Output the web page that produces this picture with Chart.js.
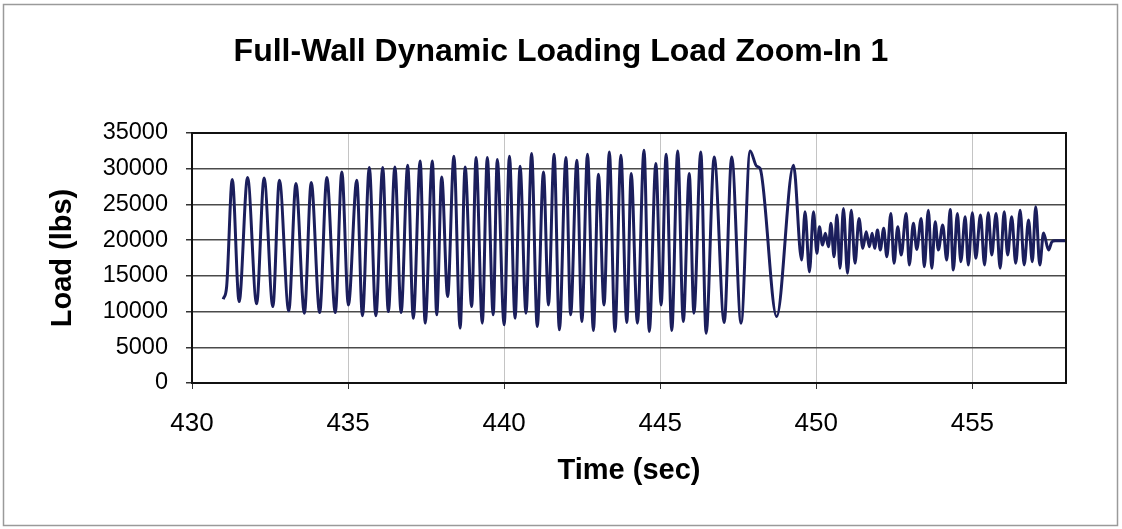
<!DOCTYPE html>
<html>
<head>
<meta charset="utf-8">
<script src="https://cdn.jsdelivr.net/npm/chart.js@4/dist/chart.umd.min.js"></script>
<style>
  html, body { margin: 0; padding: 0; background: #fff; }
  #wrap { width: 1122px; height: 529px; position: relative; }
</style>
</head>
<body>
<div id="wrap"><canvas id="c" width="1122" height="529"></canvas></div>
<script>
// ---- data (peaks / troughs of the load trace) ----
const chartTitle = "Full-Wall Dynamic Loading Load Zoom-In 1";
const xAxisTitle = "Time (sec)";
const yAxisTitle = "Load (lbs)";
const xTickValues = [430, 435, 440, 445, 450, 455];
const yTickValues = [0, 5000, 10000, 15000, 20000, 25000, 30000, 35000];

const timeSec = [
  431.00, 431.11, 431.29, 431.51, 431.78, 432.07, 432.31, 432.59, 432.80, 433.10,
  433.33, 433.60, 433.82, 434.09, 434.32, 434.59, 434.80, 435.01, 435.28, 435.46,
  435.68, 435.89, 436.11, 436.29, 436.50, 436.70, 436.91, 437.09, 437.31, 437.47,
  437.70, 437.84, 438.00, 438.19, 438.39, 438.59, 438.75, 438.96, 439.10, 439.30,
  439.46, 439.65, 439.78, 440.00, 440.17, 440.35, 440.51, 440.70, 440.88, 441.06,
  441.26, 441.42, 441.60, 441.77, 441.98, 442.13, 442.33, 442.49, 442.67, 442.86,
  443.02, 443.20, 443.37, 443.55, 443.74, 443.93, 444.07, 444.27, 444.48, 444.65,
  444.86, 445.03, 445.19, 445.37, 445.56, 445.74, 445.93, 446.08, 446.30, 446.47,
  446.73, 447.05, 447.29, 447.59, 447.88, 448.09, 448.20, 448.73, 449.27, 449.53,
  449.64, 449.78, 449.91, 450.02, 450.10, 450.20, 450.29, 450.39, 450.47, 450.57,
  450.66, 450.76, 450.87, 451.00, 451.12, 451.24, 451.37, 451.49, 451.60, 451.70,
  451.79, 451.87, 451.96, 452.05, 452.16, 452.26, 452.39, 452.49, 452.61, 452.72,
  452.88, 452.98, 453.11, 453.22, 453.36, 453.46, 453.59, 453.70, 453.81, 453.91,
  454.05, 454.18, 454.29, 454.39, 454.52, 454.63, 454.77, 454.87, 455.00, 455.11,
  455.26, 455.39, 455.51, 455.62, 455.76, 455.89, 456.02, 456.13, 456.26, 456.39,
  456.53, 456.66, 456.80, 456.92, 457.03, 457.16, 457.28, 457.44, 457.55, 457.65,
  458.00
];

const loadLbs = [
  11730, 13500, 28500, 11400, 28770, 11080, 28700, 10700, 28400, 10100,
  27930,  9780, 28070,  9860, 28770,  9860, 29550, 10930, 28400,  9400,
  30170,  9400, 30170, 10000, 30250,  9860, 30490,  9080, 31090,  8380,
  31090,  9540, 28850, 12100, 31750,  7680, 30250, 10700, 31560,  8380,
  31560,  9540, 31280,  8140, 31750,  9080, 30350,  9780, 32120,  7910,
  29550, 10930, 32020,  7440, 31560,  9540, 31190,  8600, 32020,  7350,
  29230, 10930, 32350,  7210, 31890,  8460, 29330,  8380, 32580,  7210,
  30730, 10930, 32020,  7350, 32490,  8600, 29330,  9780, 32350,  6980,
  31650,  8460, 31650,  8380, 32490, 30350, 30030,  9300, 30490, 17220,
  23970, 15590, 23970, 18160, 21870, 19320, 20950, 19080, 22350, 17680,
  23510, 16060, 24440, 15360, 24200, 16760, 23040, 18850, 21180, 19080,
  20950, 18850, 21410, 18620, 21650, 17680, 23740, 16760, 21870, 17920,
  23740, 16520, 22350, 18700, 23040, 16290, 24200, 16060, 22570, 18620,
  22110, 17220, 24300, 15820, 23740, 16980, 23270, 16520, 23830, 17460,
  23510, 16520, 23830, 17920, 23740, 16060, 23970, 17920, 23270, 16760,
  24200, 16520, 22810, 16980, 24670, 16520, 21000, 18620, 19780, 19920,
  19900
];

const points = timeSec.map((t, i) => ({ x: t, y: loadLbs[i] }));

const frame = {
  id: 'frame',
  beforeDraw(chart) {
    const ctx = chart.ctx;
    ctx.save();
    ctx.fillStyle = '#ffffff';
    ctx.fillRect(0, 0, chart.width, chart.height);
    ctx.strokeStyle = '#9a9a9a';
    ctx.lineWidth = 1.5;
    ctx.strokeRect(3.5, 4.5, 1114, 521);
    ctx.restore();
  },
  afterDatasetsDraw(chart) {
    const a = chart.chartArea;
    const ctx = chart.ctx;
    ctx.save();
    ctx.strokeStyle = '#111111';
    ctx.lineWidth = 2;
    ctx.strokeRect(a.left, a.top, a.right - a.left, a.bottom - a.top);
    ctx.restore();
  }
};

const FONT = 'Liberation Sans, Arial, sans-serif';

new Chart(document.getElementById('c'), {
  type: 'line',
  data: {
    datasets: [{
      data: points,
      borderColor: '#1b1e5c',
      borderWidth: 3,
      pointRadius: 0,
      cubicInterpolationMode: 'monotone',
      fill: false,
      yAxisID: 'y'
    }]
  },
  options: {
    responsive: false,
    animation: false,
    devicePixelRatio: 1,
    layout: { padding: { left: 0, right: 0, top: 0, bottom: 0 } },
    plugins: {
      legend: { display: false },
      tooltip: { enabled: false },
      title: {
        display: true,
        text: chartTitle,
        color: '#000',
        font: { family: FONT, size: 32, weight: 'bold' },
        padding: { top: 33, bottom: 61.6 }
      }
    },
    scales: {
      x: {
        type: 'linear',
        min: 430,
        max: 458,
        afterFit(s) { s.height = 146; },
        afterBuildTicks(s) { s.ticks = xTickValues.map(v => ({ value: v })); },
        ticks: {
          color: '#000',
          font: { family: FONT, size: 26 },
          padding: 19,
          maxRotation: 0,
          callback: v => String(v)
        },
        grid: { color: '#c4c4c4', lineWidth: 1, tickLength: 6, tickColor: '#333', drawTicks: true },
        border: { display: false },
        title: {
          display: true,
          text: xAxisTitle,
          color: '#000',
          font: { family: FONT, size: 29, weight: 'bold' },
          padding: { top: 0, bottom: 40.6 }
        }
      },
      y: {
        position: 'left',
        min: 0,
        max: 35000,
        afterFit(s) { s.width = 192; },
        afterBuildTicks(s) { s.ticks = yTickValues.map(v => ({ value: v })); },
        ticks: {
          color: '#000',
          font: { family: FONT, size: 23.5 },
          padding: 18,
          callback: v => String(v)
        },
        grid: { color: '#4a4a4a', lineWidth: 1.5, tickLength: 6, tickColor: '#333' },
        border: { display: false },
        title: {
          display: true,
          text: yAxisTitle,
          color: '#000',
          font: { family: FONT, size: 29, weight: 'bold' },
          padding: { top: 45.6, bottom: 0 }
        }
      },
      yRight: {
        position: 'right',
        min: 0,
        max: 35000,
        afterFit(s) { s.width = 56; },
        ticks: { display: false },
        grid: { display: false, drawTicks: false },
        border: { display: false }
      }
    }
  },
  plugins: [frame]
});
</script>
</body>
</html>
